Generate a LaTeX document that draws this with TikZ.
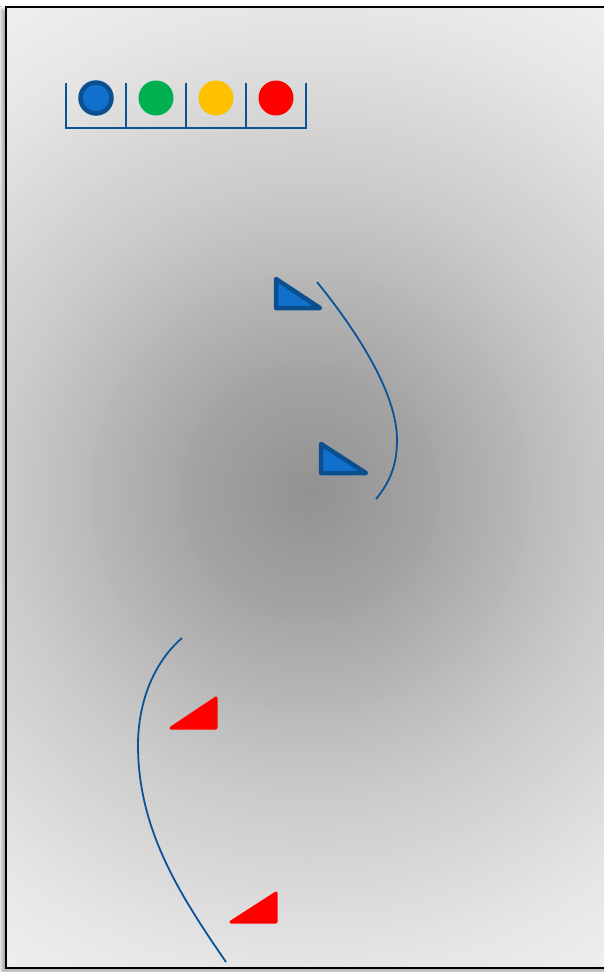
\documentclass[tikz,border=0pt]{standalone}
\usetikzlibrary{shadows.blur}
\definecolor{lineblue}{HTML}{0B5394}
\definecolor{fillblue}{HTML}{1170CC}
\definecolor{edgeblue}{HTML}{0B4F8F}
\definecolor{okgreen}{HTML}{00B050}
\definecolor{warnyellow}{HTML}{FFC000}
\definecolor{errred}{HTML}{FF0000}
\tikzset{
  legendline/.style={draw=lineblue, line width=2pt},
  arcline/.style={draw=lineblue, line width=1.8pt},
  dot/.style={circle, minimum size=35pt, inner sep=0pt},
  bluetri/.style={fill=fillblue, draw=edgeblue, line width=4.5pt, line join=round},
  redtri/.style={fill=errred, draw=errred, line width=3pt, line join=round},
}
\begin{document}
\begin{tikzpicture}[x=1pt,y=-1pt]
\useasboundingbox (0,0) rectangle (604,972);
\fill[white] (0,0) rectangle (604,972);
% frame shadow
\fill[black!55, blur shadow={shadow xshift=-4pt, shadow yshift=-3pt, shadow blur steps=6, shadow blur radius=4pt}] (6,7) rectangle (612,968);
% background: radial gradient built from concentric discs
\begin{scope}
\clip (6,7) rectangle (612,968);
\fill[black!5] (6,7) rectangle (612,968);
\foreach \i in {0,...,120} {
  \pgfmathsetmacro\rr{600-5*\i}
  \pgfmathsetmacro\gg{\rr<120 ? 43-7*\rr/120 : (\rr<300 ? 36-15*(\rr-120)/180 : (\rr<480 ? 21-11*(\rr-300)/180 : 10-5*(\rr-480)/120))}
  \fill[black!\gg] (310,492) circle[radius=\rr pt];
}
\end{scope}
\draw[black, line width=2pt] (6,7) rectangle (612,968);
% legend
\draw[legendline] (66,83) -- (66,128) -- (306,128) -- (306,83);
\draw[legendline] (126,83) -- (126,128);
\draw[legendline] (186,83) -- (186,128);
\draw[legendline] (246,83) -- (246,128);
\node[dot, minimum size=31pt, fill=fillblue, draw=edgeblue, line width=4.5pt] (s1) at (96,98) {};
\node[dot, fill=okgreen] (s2) at (156,98) {};
\node[dot, fill=warnyellow] (s3) at (216,98) {};
\node[dot, fill=errred] (s4) at (276,98) {};
% blue triangles
\draw[bluetri] (276,279) -- (276,308) -- (320,308) -- cycle;
\draw[bluetri] (321,444) -- (321,473) -- (366,473) -- cycle;
% upper arc
\draw[arcline] (317,282) .. controls (360,335) and (397,395) .. (397,440)
  .. controls (397,465) and (390,482) .. (376,499);
% red triangles
\draw[redtri] (171,728) -- (216,698) -- (216,728) -- cycle;
\draw[redtri] (231,922) -- (276,893) -- (276,922) -- cycle;
% lower arc
\draw[arcline] (182,638) .. controls (152,664) and (138,705) .. (138,745)
  .. controls (138,830) and (180,895) .. (226,962);
\end{tikzpicture}
\end{document}
